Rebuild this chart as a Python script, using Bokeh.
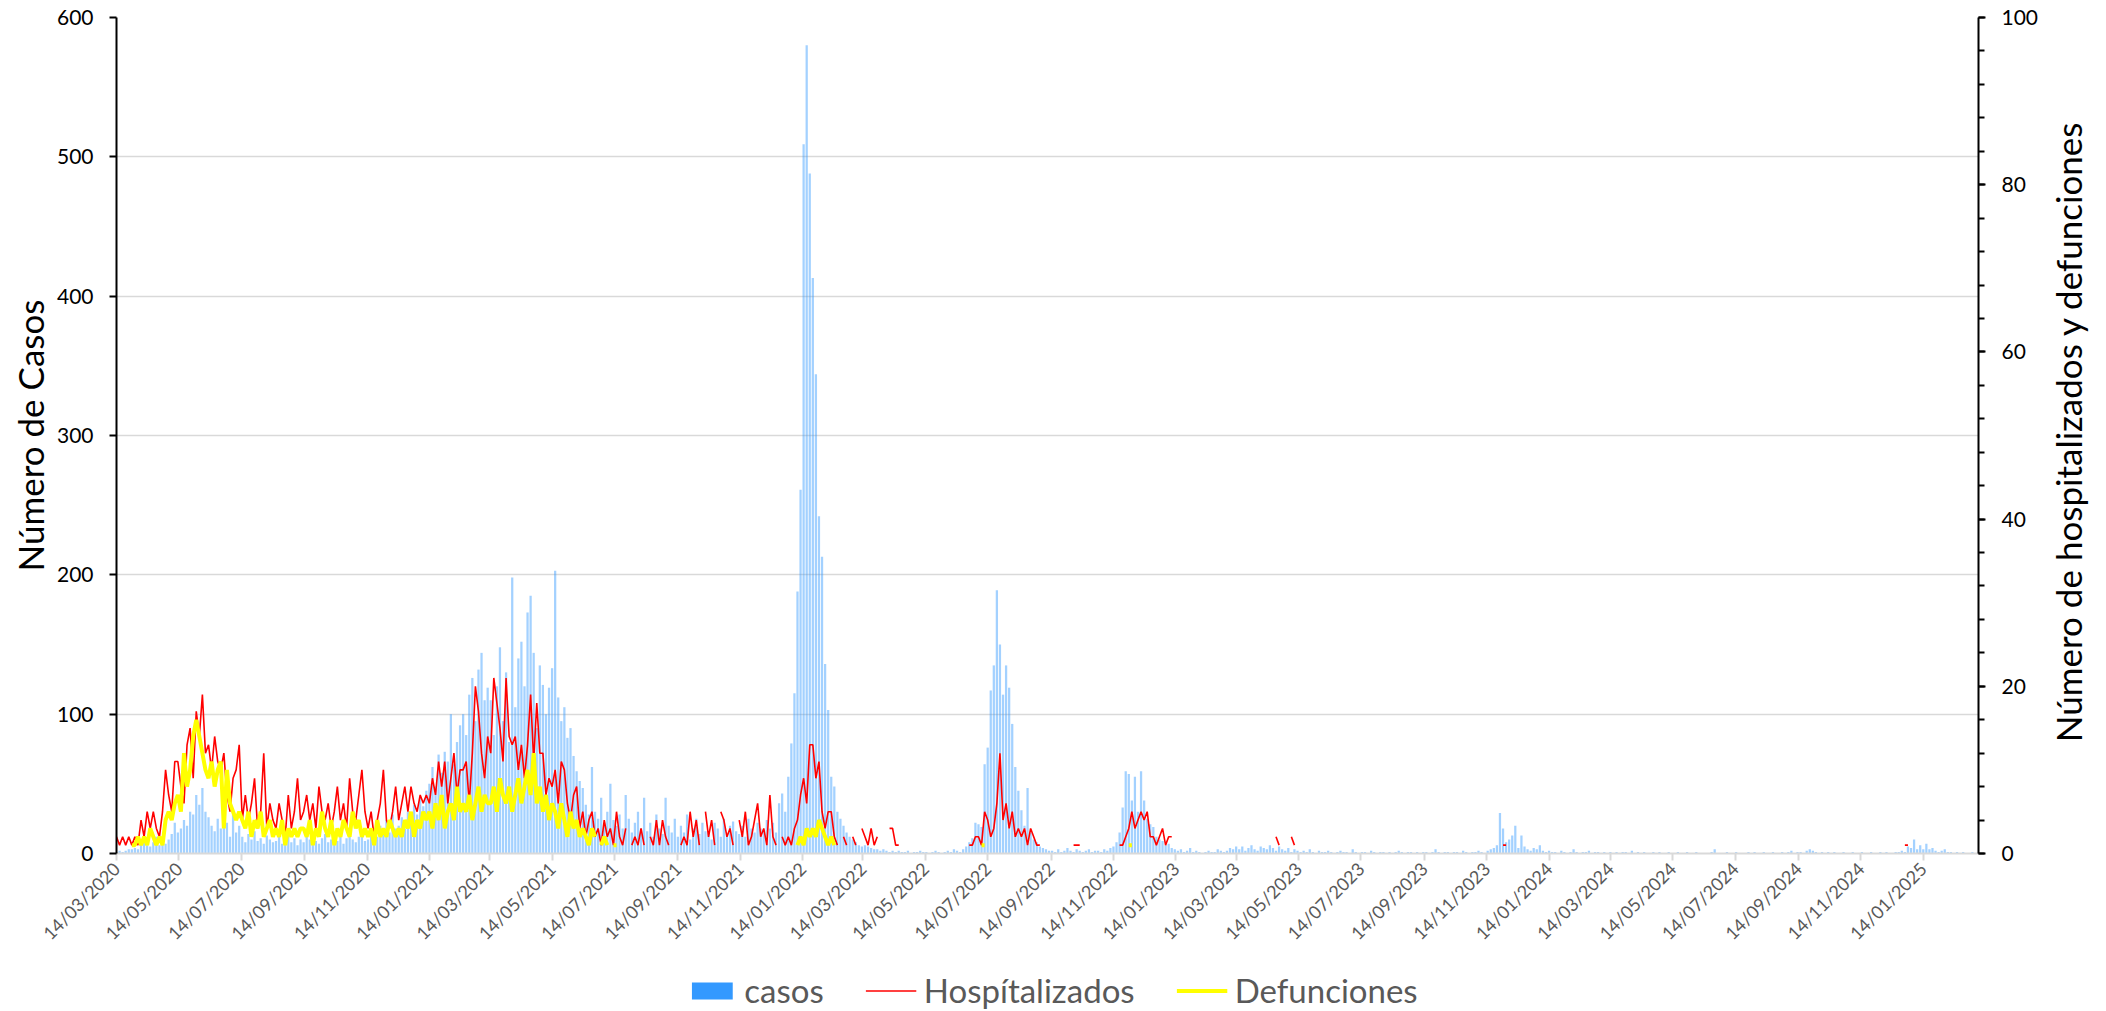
import math
import numpy as np
import pandas as pd
from bokeh.plotting import figure
from bokeh.layouts import row, column
from bokeh.models import (Range1d, LinearAxis, SingleIntervalTicker, FixedTicker,
                          DatetimeTickFormatter, Legend, LegendItem, Title)
from bokeh.embed import file_html
from bokeh.resources import INLINE

N = float("nan")
inicio = pd.Timestamp("2020-03-14")
fin_eje = pd.Timestamp("2025-03-09")
paso = 3          # days between readings
largo_tramo = 61  # readings per half-year block

# ---------------- casos (left axis) ----------------
casos_c0 = [1, 2, 1, 2, 3, 3, 4, 3, 8, 10, 6,
            5, 8, 12, 6, 9, 7, 10, 14, 22, 15,
            18, 24, 20, 30, 28, 42, 35, 47, 30, 26,
            20, 16, 25, 18, 33, 22, 12, 30, 15, 20,
            12, 8, 14, 10, 16, 9, 11, 7, 13, 10, 8,
            9, 12, 7, 10, 14, 8, 11, 6, 10]
casos_c1 = [8, 12, 10, 15, 9, 7, 11, 14, 8, 10, 12,
            9, 13, 7, 11, 15, 10, 8, 12, 16, 9,
            10, 14, 18, 12, 20, 16, 24, 15, 28, 18,
            20, 26, 18, 30, 22, 35, 28, 40, 34, 45,
            50, 62, 48, 71, 58, 73, 66, 100, 64, 80, 92,
            100, 85, 114, 126, 95, 132, 144, 110, 119]
casos_c2 = [110, 85, 120, 148, 95, 130, 80, 198, 105, 140, 152,
            120, 173, 185, 144, 90, 135, 121, 100, 119, 133,
            203, 112, 95, 105, 83, 90, 70, 59, 52, 47,
            35, 28, 62, 30, 25, 40, 22, 30, 50, 24,
            20, 28, 18, 42, 25, 15, 22, 30, 18, 40,
            16, 22, 12, 28, 18, 14, 40, 20, 15, 25]
casos_c3 = [12, 20, 15, 28, 10, 18, 25, 14, 22, 16,
            15, 10, 22, 18, 12, 25, 14, 20, 23, 16,
            14, 20, 12, 25, 18, 15, 22, 18, 16, 24,
            18, 22, 15, 36, 43, 30, 55, 79, 115, 188, 261,
            509, 580, 488, 413, 344, 242, 213, 136, 103, 55,
            48, 30, 25, 20, 15, 12, 10, 8, 6, 5]
casos_c4 = [6, 5, 4, 3, 3, 2, 3, 2, 1, 2,
            1, 2, 1, 1, 2, 0, 1, 1, 2, 1,
            1, 0, 1, 2, 1, 0, 1, 2, 1, 3,
            2, 1, 3, 5, 8, 11, 22, 21, 19, 64,
            76, 117, 135, 189, 150, 114, 135, 119, 93, 62, 45,
            31, 20, 47, 15, 10, 8, 5, 4, 3, 2]
casos_c5 = [2, 1, 3, 1, 2, 4, 2, 1, 3, 2,
            1, 2, 3, 1, 2, 2, 1, 3, 2, 4,
            5, 8, 15, 33, 59, 57, 38, 55, 30, 59, 38,
            25, 21, 19, 12, 10, 9, 6, 7, 4, 3,
            2, 3, 1, 2, 4, 1, 2, 1, 0, 1,
            2, 1, 1, 3, 2, 1, 2, 4, 3, 5]
casos_c6 = [3, 5, 2, 4, 6, 3, 2, 5, 4, 3,
            6, 4, 2, 5, 3, 2, 4, 1, 3, 2,
            1, 2, 1, 3, 1, 0, 2, 1, 1, 2,
            1, 0, 1, 2, 1, 1, 0, 3, 1, 0,
            1, 1, 0, 2, 1, 0, 1, 1, 0, 1,
            0, 1, 2, 1, 0, 1, 1, 0, 1, 0, 1]
casos_c7 = [1, 0, 1, 3, 1, 0, 1, 1, 0, 1,
            1, 0, 2, 1, 0, 1, 1, 2, 1, 0,
            2, 3, 4, 6, 29, 18, 8, 10, 13, 20, 4, 13, 5, 3, 2, 4, 3, 6, 2,
            1, 2, 1, 1, 0, 2, 1, 0, 1, 3, 1, 0, 1, 1, 2, 0, 1, 1, 0, 1, 0, 1]
casos_c8 = [0, 1, 0, 1, 1, 0, 2, 0, 1, 0,
            1, 0, 0, 1, 0, 1, 0, 0, 1, 0,
            0, 1, 0, 0, 1, 0, 0, 1, 0, 0,
            0, 0, 1, 3, 0, 0, 0, 1, 0, 0,
            1, 0, 0, 0, 1, 0, 1, 0, 0, 1,
            0, 0, 1, 0, 0, 1, 0, 1, 2, 0, 1]
casos_c9 = [1, 0, 2, 3, 2, 1, 0, 1, 0, 1,
            0, 1, 0, 0, 1, 0, 0, 1, 0, 0,
            1, 0, 0, 1, 0, 0, 1, 0, 1, 0,
            0, 1, 1, 2, 1, 5, 4, 10, 3, 6,
            3, 7, 3, 4, 2, 1, 2, 3, 1, 1,
            0, 1, 0, 1, 0, 0, 1, 0, 0]

# ---------------- Hospitalizados (right axis) ----------------
hosp_c0 = [2, 1, 2, 1, 2, 1, 2, 1, 4, 2, 5,
           3, 5, 3, 2, 5, 10, 7, 5, 11, 11,
           8, 6, 13, 15, 9, 17, 14, 19, 12, 13,
           10, 14, 11, 10, 12, 7, 5, 9, 10, 13,
           4, 7, 4, 6, 9, 3, 5, 12, 3, 6, 4,
           3, 6, 4, 2, 7, 3, 5, 9, 4]
hosp_c1 = [5, 7, 4, 6, 3, 8, 5, 4, 6, 3, 5,
           8, 4, 6, 3, 9, 5, 4, 7, 10, 5,
           3, 5, 2, 4, 6, 10, 4, 3, 5, 8,
           4, 6, 8, 5, 8, 6, 5, 7, 6, 7,
           6, 9, 7, 11, 8, 11, 6, 9, 12, 7, 10,
           10, 11, 6, 12, 20, 17, 12, 9, 14]
hosp_c2 = [12, 21, 18, 15, 11, 21, 14, 13, 14, 10, 13,
           9, 13, 19, 11, 18, 12, 12, 7, 9, 8,
           10, 6, 11, 10, 6, 4, 7, 8, 3, 5,
           2, 4, 5, 2, 3, 1, 4, 2, 3, 1,
           5, 2, 1, 3, N, 1, 2, 1, 3, 1,
           N, 2, 1, 4, 1, 4, 2, 1, N, 5]
hosp_c3 = [N, 1, 2, 1, 5, 2, 4, 1, N, 5,
           2, 4, 1, N, 5, 4, 2, 3, 1, N,
           4, 2, 5, 1, 2, 4, 6, 2, 3, 1,
           7, 2, 1, N, 2, 1, 2, 1, 3, 4, 7,
           9, 6, 13, 13, 9, 11, 5, 3, 5, 5,
           2, 1, N, 2, 1, N, 2, 1, N, 3]
hosp_c4 = [2, 1, 3, 1, 2, N, N, N, 3, 3,
           1, 1, N, N, N, N, N, N, N, N,
           N, N, N, N, N, N, N, N, N, N,
           N, N, N, N, 1, 1, 2, 2, 1, 5,
           4, 2, 3, 6, 12, 4, 6, 3, 5, 2, 3,
           2, 3, 1, 3, 2, 1, 1, N, N, N]
hosp_c5 = [N, N, N, N, N, N, N, 1, 1, 1,
           N, N, N, N, N, N, N, N, N, N,
           N, N, 1, 1, 2, 3, 5, 3, 4, 5, 4,
           5, 2, 2, 1, 2, 3, 1, 2, 2, N]
hosp_tardio_fechas = ["2023-04-22", "2023-04-25", "2023-05-07", "2023-05-10",
                      "2023-11-30", "2023-12-03", "2024-12-27", "2024-12-30"]
hosp_tardio_valores = [2, 1, 2, 1, 1, 1, 1, 1]

# ---------------- Defunciones (right axis) ----------------
def_c0 = [N, N, N, 1, N, 1, 1, 2, 1, 2, 1,
          3, 2, 1, 2, 1, 4, 5, 4, 6, 7,
          5, 12, 8, 10, 14, 16, 14, 12, 10, 9,
          11, 8, 10, 11, 3, 10, 6, 5, 4, 5,
          4, 3, 5, 2, 4, 3, 5, 2, 3, 4, 2,
          3, 2, 4, 1, 3, 2, 3, 2, 3]
def_c1 = [3, 2, 4, 1, 3, 2, 5, 3, 2, 4, 1,
          3, 2, 4, 3, 2, 5, 3, 4, 2, 3,
          2, 3, 1, 4, 2, 3, 2, 4, 3, 2,
          3, 2, 4, 3, 5, 2, 4, 3, 5, 4,
          5, 3, 6, 4, 7, 3, 5, 6, 4, 8, 5,
          6, 5, 7, 4, 6, 8, 5, 7, 6]
def_c2 = [6, 8, 5, 9, 7, 6, 8, 5, 7, 9, 6,
          8, 10, 7, 12, 6, 8, 5, 7, 4, 6,
          5, 3, 6, 4, 2, 5, 3, 4, 2, 3,
          2, 1, 3, 2, N, 1, 2, 1, N, 1,
          1, N, 1, N, N, 1, N, N, 1, N,
          N, 1, N, N, N, 1, N, N, N, N]
def_c3 = [N, N, N, 1, N, N, N, N, N, N,
          N, N, 1, N, N, N, N, N, N, N,
          N, N, N, 1, N, N, N, N, 1, N,
          N, N, N, N, N, N, N, 1, N, 1, 2,
          1, 3, 2, 3, 2, 4, 3, 2, 1, 2,
          1, N, 1, N, N, N, N, N, N, N]
def_c4 = [N] * 38 + [1, 1]
def_c5 = [N] * 25 + [1, 1]

FONT = "Lato"
TITULO_IZQ = "Número de Casos"
TITULO_DER = "Número de hospitalizados y defunciones"
COLOR_CASOS = "#3399FF"
COLOR_HOSP = "#FF0000"
COLOR_DEF = "#FFFF00"


def serie(tramos):
    ks, vs = [], []
    for j, t in enumerate(tramos):
        for i, v in enumerate(t):
            ks.append(j * largo_tramo + i)
            vs.append(v)
    fechas = inicio + pd.to_timedelta(np.array(ks) * paso, unit="D")
    return fechas.values, np.array(vs, dtype=float)


x_c, y_c = serie([casos_c0, casos_c1, casos_c2, casos_c3, casos_c4,
                  casos_c5, casos_c6, casos_c7, casos_c8, casos_c9])
x_h, y_h = serie([hosp_c0, hosp_c1, hosp_c2, hosp_c3, hosp_c4, hosp_c5])
x_d, y_d = serie([def_c0, def_c1, def_c2, def_c3, def_c4, def_c5])

# ================= main chart =================
p = figure(frame_width=1862, frame_height=836, x_axis_type="datetime",
           x_range=Range1d(inicio, fin_eje), y_range=Range1d(0, 600),
           output_backend="svg", toolbar_location=None,
           min_border_left=116, min_border_right=62, min_border_top=17,
           min_border_bottom=100)
p.extra_y_ranges = {"der": Range1d(0, 100)}
p.outline_line_color = None
p.background_fill_color = "white"
p.border_fill_color = "white"
p.xgrid.grid_line_color = None
p.ygrid.grid_line_color = "#D9D9D9"
p.ygrid.grid_line_width = 1.3

day_ms = 86400000
p.vbar(x=x_c, top=y_c, width=2.2 * day_ms, fill_color=COLOR_CASOS, fill_alpha=0.45,
       line_color=None)
p.line(x_h, y_h, y_range_name="der", line_color=COLOR_HOSP, line_width=1.6)
segs_x, segs_y = [], []
for i in range(0, len(hosp_tardio_fechas), 2):
    segs_x.append([pd.Timestamp(hosp_tardio_fechas[i]), pd.Timestamp(hosp_tardio_fechas[i + 1])])
    segs_y.append([hosp_tardio_valores[i], hosp_tardio_valores[i + 1]])
p.multi_line(segs_x, segs_y, y_range_name="der", line_color=COLOR_HOSP, line_width=1.6)
p.line(x_d, y_d, y_range_name="der", line_color=COLOR_DEF, line_width=4)

# left axis
ya = p.yaxis[0]
ya.ticker = SingleIntervalTicker(interval=100, num_minor_ticks=0)
ya.axis_line_color = "black"
ya.axis_line_width = 2
ya.major_tick_line_color = "black"
ya.major_tick_line_width = 2
ya.major_tick_in = 0
ya.major_tick_out = 7
ya.minor_tick_line_color = None
ya.major_label_standoff = 16
ya.major_label_text_font = FONT
ya.major_label_text_font_size = "21px"
ya.major_label_text_color = "black"
ya.axis_label = TITULO_IZQ
ya.axis_label_text_font = FONT
ya.axis_label_text_font_size = "35px"
ya.axis_label_text_font_style = "normal"
ya.axis_label_text_color = "black"
ya.axis_label_standoff = 3

# right axis
ax_r = LinearAxis(y_range_name="der",
                  ticker=SingleIntervalTicker(interval=20, num_minor_ticks=5))
ax_r.axis_line_color = "black"
ax_r.axis_line_width = 2
ax_r.major_tick_line_color = "black"
ax_r.major_tick_line_width = 2
ax_r.minor_tick_line_color = "black"
ax_r.minor_tick_line_width = 2
ax_r.major_tick_in = 0
ax_r.major_tick_out = 7
ax_r.minor_tick_in = 0
ax_r.minor_tick_out = 6
ax_r.major_label_standoff = 16
ax_r.major_label_text_font = FONT
ax_r.major_label_text_font_size = "21px"
ax_r.major_label_text_color = "black"
p.add_layout(ax_r, "right")

# bottom axis
tick_fechas = pd.date_range("2020-03-14", "2025-01-14", freq=pd.DateOffset(months=2))
xa = p.xaxis[0]
xa.ticker = FixedTicker(ticks=[t.value / 1e6 for t in tick_fechas])
fmt = "%d/%m/%Y"
xa.formatter = DatetimeTickFormatter(days=fmt, months=fmt, years=fmt, hours=fmt,
                                     hourmin=fmt, minutes=fmt)
xa.major_label_orientation = math.pi / 4
xa.major_label_text_font = FONT
xa.major_label_text_font_size = "18px"
xa.major_label_text_color = "#595959"
xa.axis_line_color = "#D9D9D9"
xa.axis_line_width = 2
xa.major_tick_line_color = "#D9D9D9"
xa.major_tick_line_width = 2
xa.major_tick_in = 0
xa.major_tick_out = 7
xa.minor_tick_line_color = None

# ================= right title strip (reads bottom-to-top) =================
t = figure(width=64, height=946, x_axis_location=None, y_axis_location=None,
           min_border_left=47, min_border_right=0, min_border_top=0, min_border_bottom=0,
           output_backend="svg", toolbar_location=None)
t.outline_line_color = None
t.grid.grid_line_color = None
titulo = Title(text=TITULO_DER, align="center", text_font=FONT, text_font_size="35px",
               text_font_style="normal", text_color="black", standoff=0, offset=0)
t.add_layout(titulo, "left")

# ================= legend strip =================
leg = figure(width=2104, height=56, x_axis_location=None, y_axis_location=None,
             x_range=Range1d(0, 1), y_range=Range1d(0, 1),
             min_border=0, output_backend="svg", toolbar_location=None)
leg.outline_line_color = None
leg.grid.grid_line_color = None
# legend sample glyphs, placed far outside the visible range
lr_c = leg.quad(left=[0.4], right=[0.5], bottom=[50], top=[51],
                fill_color=COLOR_CASOS, line_color=None)
lr_h = leg.line(x=[0.4, 0.5], y=[50, 50], line_color=COLOR_HOSP, line_width=1.6)
lr_d = leg.line(x=[0.4, 0.5], y=[50, 50], line_color=COLOR_DEF, line_width=4)
legend = Legend(items=[LegendItem(label="casos", renderers=[lr_c]),
                       LegendItem(label="Hospítalizados", renderers=[lr_h]),
                       LegendItem(label="Defunciones", renderers=[lr_d])],
                orientation="horizontal", location="bottom_center")
legend.label_text_font = FONT
legend.label_text_font_size = "33px"
legend.label_text_color = "#595959"
legend.glyph_width = 51
legend.glyph_height = 21
legend.label_standoff = 7
legend.spacing = 42
legend.padding = 0
legend.margin = 0
legend.border_line_color = None
legend.background_fill_alpha = 0
leg.add_layout(legend, "center")

layout = column(row(p, t), leg)
open("out.html", "w").write(file_html(layout, INLINE))
